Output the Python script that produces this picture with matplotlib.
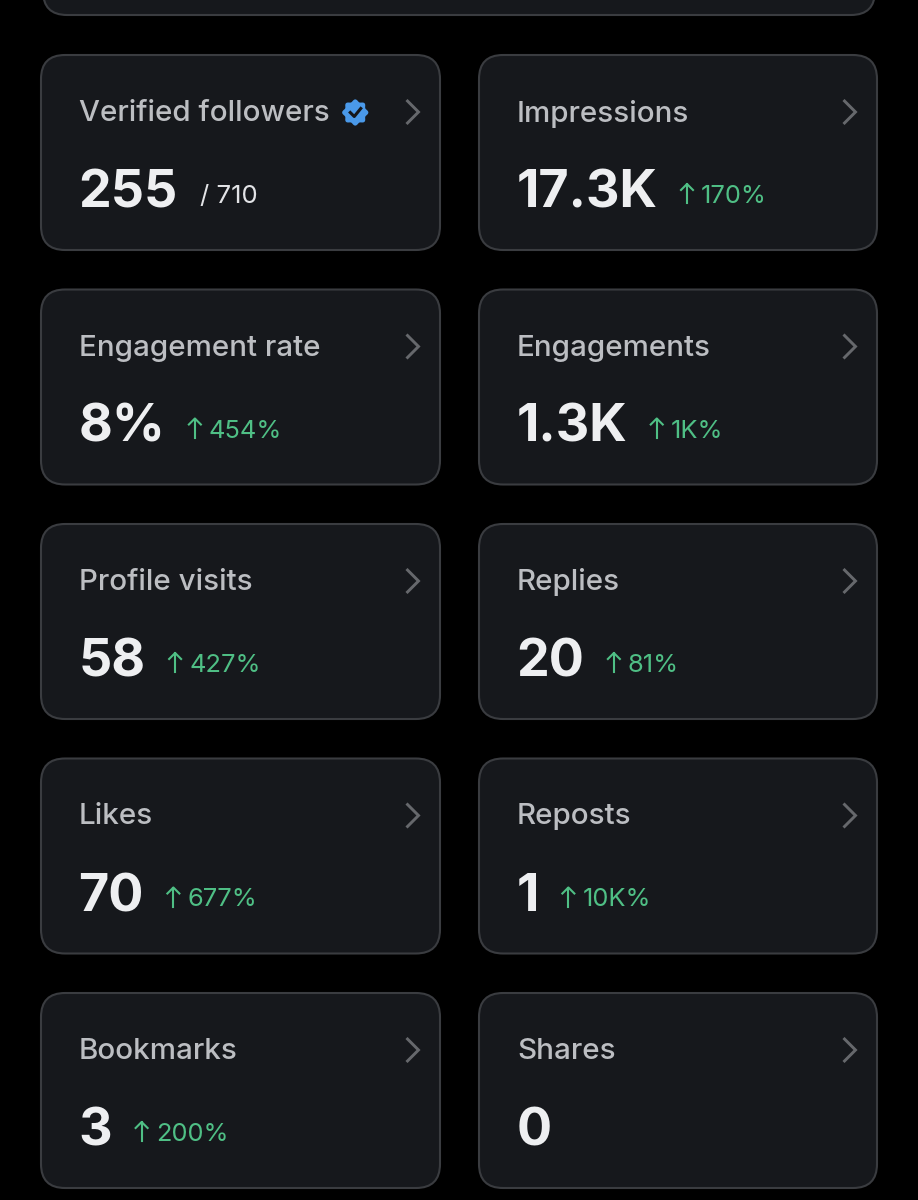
import matplotlib
matplotlib.use("Agg")
import matplotlib.pyplot as plt
from matplotlib.patches import FancyBboxPatch, Polygon
import numpy as np

plt.rcParams['font.family'] = ['Inter', 'Noto Sans', 'DejaVu Sans']

titles = ["Verified followers", "Impressions", "Engagement rate", "Engagements",
          "Profile visits", "Replies", "Likes", "Reposts", "Bookmarks", "Shares"]
values = ["255", "17.3K", "8%", "1.3K", "58", "20", "70", "1", "3", "0"]
deltas = ["/ 710", "170%", "454%", "1K%", "427%", "81%", "677%", "10K%", "200%", ""]

W, H = 918, 1200
BG = "#000000"; CARD = "#16181c"; EDGE = "#3a3c40"
TITLE = "#bcbec2"; VALUE = "#eeeff1"; GREEN = "#4fbf85"; CHEV = "#66686c"

fig = plt.figure(figsize=(W/100, H/100), dpi=100, facecolor=BG)
ax = fig.add_axes([0, 0, 1, 1])
ax.set_xlim(0, W); ax.set_ylim(H, 0); ax.axis("off")

card_h = 195
col_x = [41, 479]
col_w = [399, 398]
row_y = [55, 289.5, 524, 758.5, 993]

def card(x, y, w, h):
    ax.add_patch(FancyBboxPatch((x+24, y+24), w-48, h-48,
                 boxstyle="round,pad=24,rounding_size=24",
                 fc=CARD, ec=EDGE, lw=1.5, zorder=1))

card(43, -179, 832, 194)

fig.canvas.draw()
rend = fig.canvas.get_renderer()

for i, (t, v, d) in enumerate(zip(titles, values, deltas)):
    x = col_x[i % 2]; y = row_y[i // 2]; w = col_w[i % 2]
    card(x, y, w, card_h)
    tx = ax.text(x+38, y+55.5, t, color=TITLE, fontsize=21.3, fontweight="medium",
                 va="center_baseline", ha="left", zorder=3)
    vt = ax.text(x+37.5, y+133.5, v, color=VALUE, fontsize=37.5, fontweight="bold",
                 va="center_baseline", ha="left", zorder=3)
    cx = x + w - 27.5; cy = y + 57
    ax.plot([cx-6, cx+6, cx-6], [cy-12, cy, cy+12], color=CHEV, lw=2.1, zorder=3,
            solid_joinstyle="miter", solid_capstyle="butt")
    right = vt.get_window_extent(rend).x1
    if i == 0:
        ax.text(right+22, y+139, d, color="#e2e3e6", fontsize=18.5, va="center_baseline", zorder=3)
        tr = tx.get_window_extent(rend).x1
        bx, by = tr+25.5, y+57.5
        ang = np.linspace(0, 2*np.pi, 200)
        rad = 12 + 1.1*np.cos(8*ang)
        ax.add_patch(Polygon(np.c_[bx+rad*np.cos(ang), by+rad*np.sin(ang)], fc="#4a99e9", ec="none", zorder=3))
        ax.plot([bx-5, bx-1, bx+5.5], [by, by+4, by-4], color="#14171c", lw=2.2, zorder=4)
    elif d:
        ax_x = right + 29.5
        ay = y + 139
        ax.plot([ax_x, ax_x], [ay-10, ay+9], color=GREEN, lw=1.5, zorder=3)
        ax.plot([ax_x-6, ax_x, ax_x+6], [ay-4, ay-10, ay-4], color=GREEN, lw=1.5, zorder=3)
        ax.text(ax_x+14, ay, d, color=GREEN, fontsize=18.3, va="center_baseline", zorder=3)

fig.savefig("out.png", dpi=100, facecolor=BG)
